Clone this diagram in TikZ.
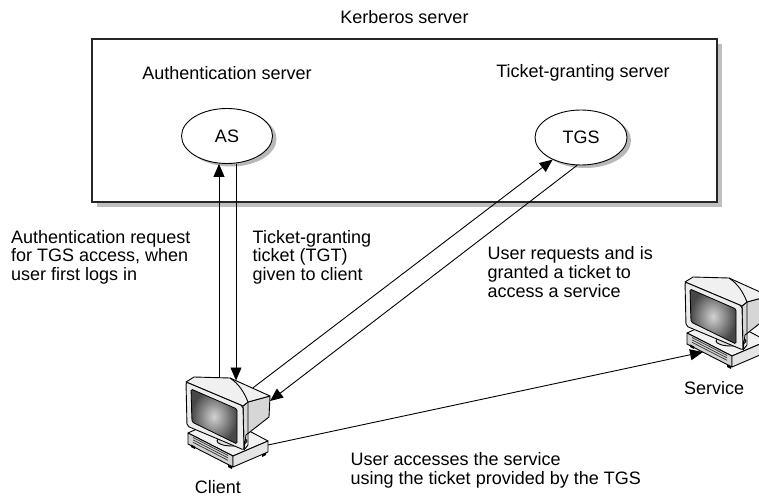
\documentclass[tikz,border=0pt]{standalone}
\usepackage{fontspec}
\setmainfont{Liberation Sans}
\usetikzlibrary{arrows.meta,shapes.geometric,shadows,calc}

\begin{document}
\begin{tikzpicture}[x=1pt,y=-1pt,
  every node/.style={inner sep=0pt, font=\fontsize{18}{18.7}\selectfont, text=black},
  lbl/.style={align=left, anchor=west},
  server/.style={ellipse, draw=black, line width=0.9pt, fill=white,
    minimum width=91pt, minimum height=55pt,
    drop shadow={shadow xshift=4pt, shadow yshift=-3pt, fill=black!28, opacity=1}},
  link/.style={draw=black, line width=0.9pt},
  tip/.style={-{Triangle[length=13pt,width=11pt]}},
  outl/.style={draw=black, line width=0.9pt, line join=round},
  computer/.pic={
    % desktop case: top, front and side faces
    \draw[outl, fill=gray!10] (2,58) -- (37,42) -- (82,66) -- (47,81) -- cycle;
    \draw[outl, fill=gray!35] (2,58) -- (47,81) -- (47,92) -- (2,69) -- cycle;
    \draw[outl, fill=gray!20] (47,81) -- (82,66) -- (82,77) -- (47,92) -- cycle;
    \foreach \d in {0,2.4,4.8}
      \draw[black!80, line width=0.7pt] (7,62.5+\d) -- (42,80.5+\d);
    % feet
    \fill (5,69.5) -- (9,71.5) -- (9,74) -- (5,72) -- cycle;
    \fill (42,89.5) -- (46,91.5) -- (46,94) -- (42,92) -- cycle;
    \fill (76,79.5) -- (80,77.5) -- (80,80) -- (76,82) -- cycle;
    % stand
    \draw[outl, fill=gray!25] (46,66) ellipse [x radius=15, y radius=5];
    % monitor housing: side face, top face and funnel edge
    \draw[outl, fill=gray!32] (57,31) -- (62,27) -- (84,21) -- (83,42) -- (60,60) -- (58,75) -- cycle;
    \draw[outl, fill=gray!12] (0,7) -- (8,2) -- (44,3) -- (84,21) -- (62,27) -- (57,31) -- cycle;
    \draw[outl] (44,3) .. controls (53,9) and (58,17) .. (62,27) -- (62,70) -- (58,75);
    % bezel and screen
    \draw[outl, fill=gray!15, rounded corners=2pt] (0,7) -- (57,31) -- (58,75) -- (1,51) -- cycle;
    \shade[draw=black, line width=0.8pt, inner color=gray!35, outer color=black!72,
      rounded corners=1.5pt] (5,14) -- (51,34) -- (51,69) -- (6,47) -- cycle;
    % connection points
    \coordinate (-up) at (33,3);
    \coordinate (-dn) at (50,5.5);
    \coordinate (-ne) at (67,12.8);
    \coordinate (-rt) at (84,26);
    \coordinate (-base) at (82,70);
    \coordinate (-in) at (18,77);
  }
]
\useasboundingbox (0,0) rectangle (759,497);

% Kerberos server enclosure
\node (title) at (404.5,17) {Kerberos server};
\node[draw=black!85, line width=1.4pt, fill=white,
  minimum width=625pt, minimum height=163pt,
  drop shadow={shadow xshift=5pt, shadow yshift=-5pt, fill=black!25, opacity=1}]
  (kbox) at (404.5,120.5) {};

\node (aslabel) at (227,73) {Authentication server};
\node (tgslabel) at (583,73) {Ticket-granting server};
\node[server] (as) at (227,136) {AS};
\node[server, minimum width=92pt] (tgs) at (581,137.5) {TGS};

% workstations
\pic (client) at (186,375) {computer};
\pic (service) at (685,275) {computer};
\node (clientlabel) at (218,487.5) {Client};
\node (servicelabel) at (714,388) {Service};

% message texts
\node[lbl, font=\fontsize{18}{18.5}\selectfont] (req) at (11,257)
  {Authentication request\\for TGS access, when\\user first logs in};
\node[lbl, font=\fontsize{18}{18.5}\selectfont] (tgt) at (252.5,257)
  {Ticket-granting\\ticket (TGT)\\given to client};
\node[lbl] (grant) at (487.5,272)
  {User requests and is\\granted a ticket to\\access a service};
\node[lbl] (use) at (350.5,470.5)
  {User accesses the service\\using the ticket provided by the TGS};

% messages
\draw[link,tip] (client-up) -- (client-up |- as.south);
\draw[link,tip] (as.south -| client-dn) -- (client-dn);
\draw[link,tip] (client-ne) -- (tgs.218);
\draw[link,tip] (tgs.262) -- (client-rt);
\draw[link,tip] (client-base) -- (service-in);
\end{tikzpicture}
\end{document}
